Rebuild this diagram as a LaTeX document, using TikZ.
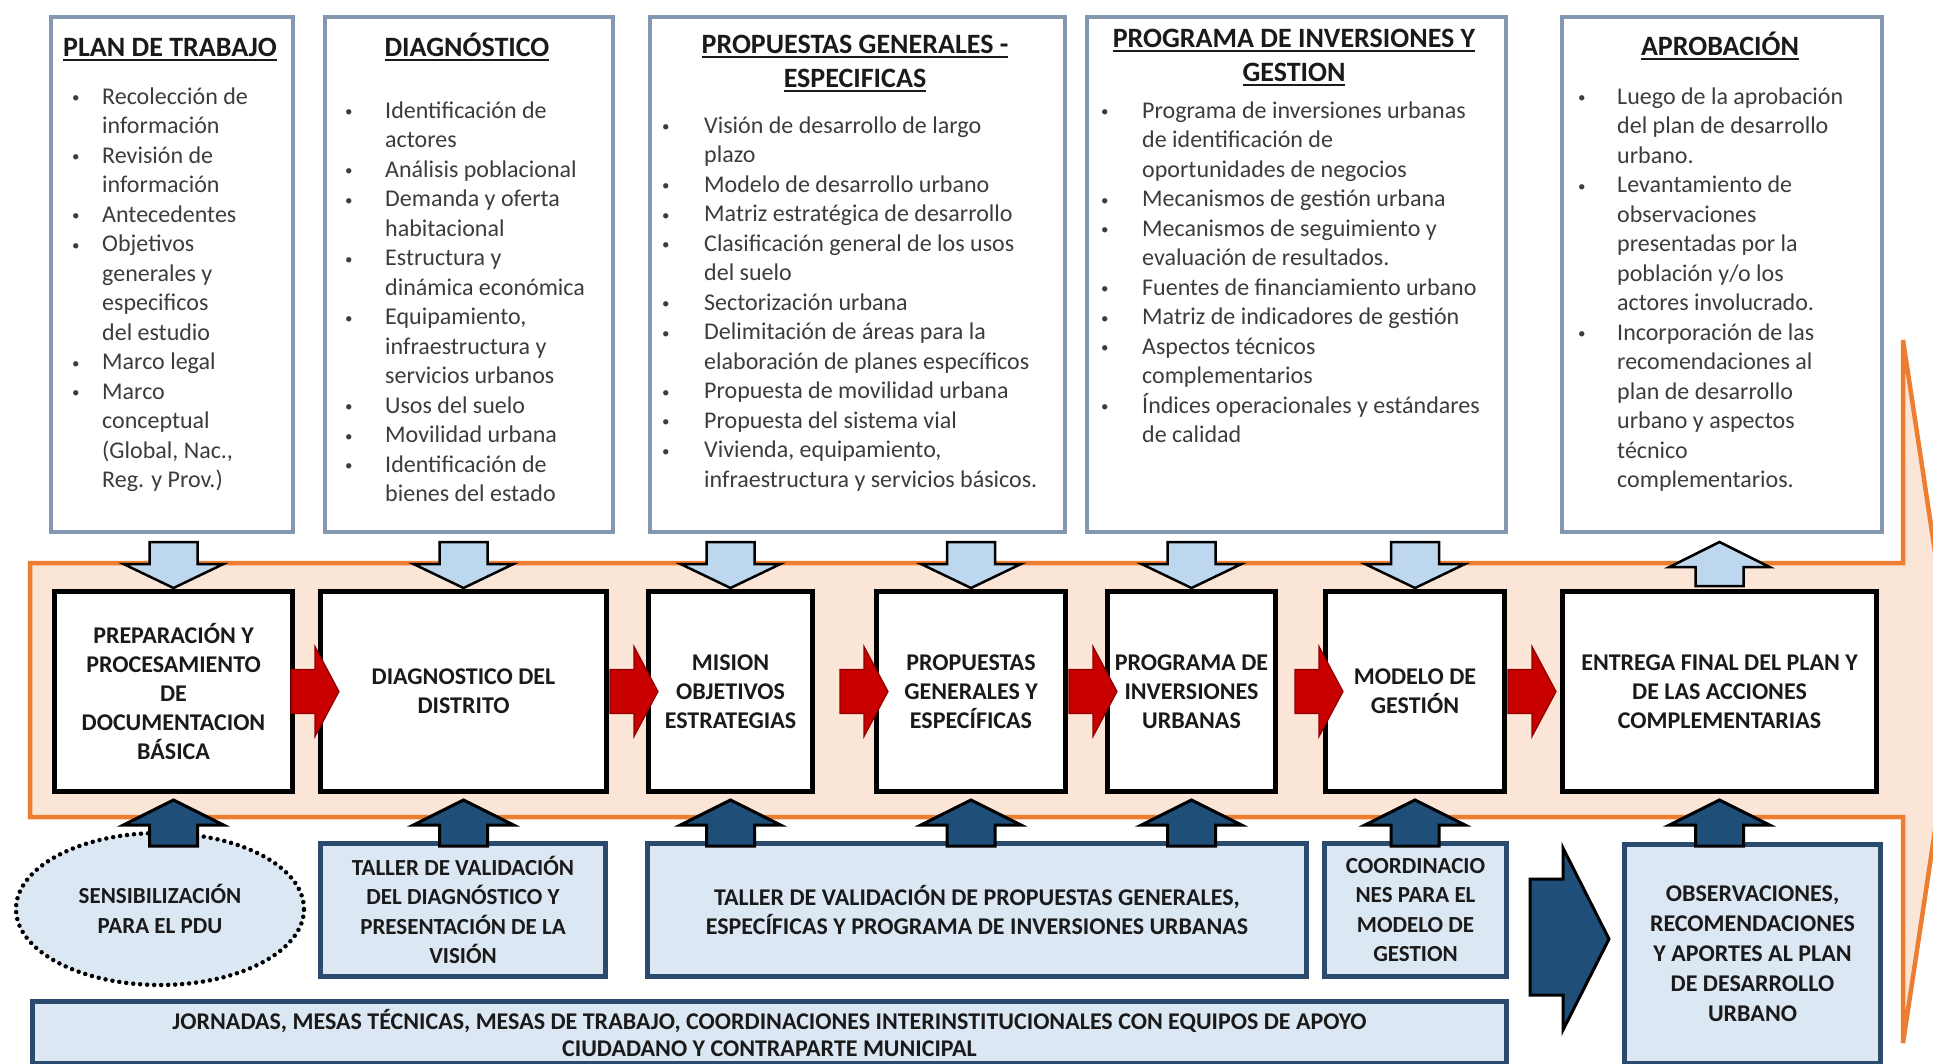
\documentclass[tikz,border=0pt]{standalone}
\usepackage{fontspec}
\setmainfont{Carlito}
\usetikzlibrary{shapes.geometric,calc}
\definecolor{tbord}{HTML}{8497B0}
\definecolor{lblue}{HTML}{BDD7EE}
\definecolor{dblue}{HTML}{1F4E79}
\definecolor{bbord}{HTML}{2A4A6E}
\definecolor{bfill}{HTML}{DCE7F4}
\definecolor{peach}{HTML}{FBE5D6}
\definecolor{orng}{HTML}{ED7D31}
\definecolor{redf}{HTML}{C80000}
\definecolor{redd}{HTML}{8E0000}
\definecolor{bodytxt}{HTML}{3C3C3C}
\definecolor{txt}{HTML}{1A1A1A}
\newcommand{\myul}[1]{\setbox0\hbox{#1}\rlap{\rule[-4.5pt]{\wd0}{2pt}}\box0}
\newcommand{\bu}{{\fontsize{15}{15}\selectfont\raisebox{1.5pt}{•}}}
\tikzset{
  topbox/.style={draw=tbord, line width=4pt, fill=white, anchor=north west, inner sep=0pt},
  procbox/.style={draw=black, line width=5pt, fill=white, anchor=north west, inner sep=0pt,
    align=center, text=txt, font=\fontsize{24}{29}\selectfont\bfseries},
  botbox/.style={draw=bbord, line width=5pt, fill=bfill, anchor=north west, inner sep=0pt,
    align=center, text=txt, font=\fontsize{23}{29.5}\selectfont\bfseries},
  sensst/.style={ellipse, draw=black, line width=4.5pt, dash pattern=on 0pt off 7pt, line cap=round,
    fill=bfill, minimum width=288, minimum height=152, inner sep=0pt, align=center, text=txt,
    font=\fontsize{23}{29.5}\selectfont\bfseries},
  ttl/.style={anchor=base, inner sep=0pt, text=txt, font=\fontsize{28}{34}\selectfont\bfseries},
  body/.style={anchor=base west, inner sep=0pt, text=bodytxt, font=\fontsize{24}{29.5}\selectfont},
  bandst/.style={draw=orng, line width=4.5pt, fill=peach, line join=miter},
  lbarrow/.style={draw=black, line width=2.5pt, fill=lblue, line join=miter},
  dbarrow/.style={draw=black, line width=3pt, fill=dblue, line join=miter},
  redarrow/.style={draw=redd, line width=1.2pt, fill=redf, line join=miter},
  lbdown/.pic={\draw[lbarrow] (-24,-47) -- (24,-47) -- (24,-25) -- (50,-25) -- (0,-1) -- (-50,-25) -- (-24,-25) -- cycle;},
  lbup/.pic={\draw[lbarrow] (-24,-3) -- (24,-3) -- (24,-22) -- (50,-22) -- (0,-47) -- (-50,-22) -- (-24,-22) -- cycle;},
  dbup/.pic={\draw[dbarrow] (-24,52) -- (24,52) -- (24,31) -- (50,31) -- (0,6) -- (-50,31) -- (-24,31) -- cycle;},
  redarr/.pic={\draw[redarrow] (-48,-22) -- (-24,-22) -- (-24,-45) -- (0,0) -- (-24,45) -- (-24,22) -- (-48,22) -- cycle;}
}
\begin{document}
\begin{tikzpicture}[x=1pt, y=-1pt]
\useasboundingbox (0,0) rectangle (1933,1063);
\fill[white] (0,0) rectangle (1933,1063);
\begin{scope}
  \clip (0,0) rectangle (1933,1063);
  \draw[bandst] (30,563) -- (1903,563) -- (1903,340) -- (1956,691) -- (1903,1043) -- (1903,817) -- (30,817) -- cycle;
\end{scope}

% top boxes
\node[topbox, minimum width=242, minimum height=515] (tplan) at (49,15) {};
\node[topbox, minimum width=288, minimum height=515] (tdiag) at (323,15) {};
\node[topbox, minimum width=415, minimum height=515] (tprop) at (648,15) {};
\node[topbox, minimum width=419, minimum height=515] (tprog) at (1085,15) {};
\node[topbox, minimum width=320, minimum height=515] (tapro) at (1560,15) {};

\node[ttl] (tplanT) at (170,56) {\myul{PLAN DE TRABAJO}};
\node[ttl] (tdiagT) at (467,56) {\myul{DIAGNÓSTICO}};
\node[ttl] (tpropT) at (855,53) {\begin{tabular}[t]{@{}c@{}}\myul{PROPUESTAS GENERALES -}\\\myul{ESPECIFICAS}\end{tabular}};
\node[ttl] (tprogT) at (1294,47) {\begin{tabular}[t]{@{}c@{}}\myul{PROGRAMA DE INVERSIONES Y}\\\myul{GESTION}\end{tabular}};
\node[ttl] (taproT) at (1720,55) {\myul{APROBACIÓN}};

\node[body] (tplanB) at (72,104) {\begin{tabular}[t]{@{}p{30pt}@{}l@{}}
\bu & Recolección de\\
  & información\\
\bu & Revisión de\\
  & información\\
\bu & Antecedentes\\
\bu & Objetivos\\
  & generales y\\
  & especificos\\
  & del estudio\\
\bu & Marco legal\\
\bu & Marco\\
  & conceptual\\
  & (Global, Nac.,\\
  & Reg. y Prov.)
\end{tabular}};

\node[body] (tdiagB) at (345,118) {\begin{tabular}[t]{@{}p{40pt}@{}l@{}}
\bu & Identificación de\\
  & actores\\
\bu & Análisis poblacional\\
\bu & Demanda y oferta\\
  & habitacional\\
\bu & Estructura y\\
  & dinámica económica\\
\bu & Equipamiento,\\
  & infraestructura y\\
  & servicios urbanos\\
\bu & Usos del suelo\\
\bu & Movilidad urbana\\
\bu & Identificación de\\
  & bienes del estado
\end{tabular}};

\node[body] (tpropB) at (662,133) {\begin{tabular}[t]{@{}p{42pt}@{}l@{}}
\bu & Visión de desarrollo de largo\\
  & plazo\\
\bu & Modelo de desarrollo urbano\\
\bu & Matriz estratégica de desarrollo\\
\bu & Clasificación general de los usos\\
  & del suelo\\
\bu & Sectorización urbana\\
\bu & Delimitación de áreas para la\\
  & elaboración de planes específicos\\
\bu & Propuesta de movilidad urbana\\
\bu & Propuesta del sistema vial\\
\bu & Vivienda, equipamiento,\\
  & infraestructura y servicios básicos.
\end{tabular}};

\node[body] (tprogB) at (1101,118) {\begin{tabular}[t]{@{}p{41pt}@{}l@{}}
\bu & Programa de inversiones urbanas\\
  & de identificación de\\
  & oportunidades de negocios\\
\bu & Mecanismos de gestión urbana\\
\bu & Mecanismos de seguimiento y\\
  & evaluación de resultados.\\
\bu & Fuentes de financiamiento urbano\\
\bu & Matriz de indicadores de gestión\\
\bu & Aspectos técnicos\\
  & complementarios\\
\bu & Índices operacionales y estándares\\
  & de calidad
\end{tabular}};

\node[body] (taproB) at (1578,104) {\begin{tabular}[t]{@{}p{39pt}@{}l@{}}
\bu & Luego de la aprobación\\
  & del plan de desarrollo\\
  & urbano.\\
\bu & Levantamiento de\\
  & observaciones\\
  & presentadas por la\\
  & población y/o los\\
  & actores involucrado.\\
\bu & Incorporación de las\\
  & recomendaciones al\\
  & plan de desarrollo\\
  & urbano y aspectos\\
  & técnico\\
  & complementarios.
\end{tabular}};

% process boxes
\node[procbox, minimum width=238, minimum height=200] (p1) at (52,589) {PREPARACIÓN Y\\PROCESAMIENTO\\DE\\DOCUMENTACION\\BÁSICA};
\node[procbox, minimum width=286, minimum height=200] (p2) at (318,589) {DIAGNOSTICO DEL\\DISTRITO};
\node[procbox, minimum width=164, minimum height=200] (p3) at (646,589) {MISION\\OBJETIVOS\\ESTRATEGIAS};
\node[procbox, minimum width=189, minimum height=200] (p4) at (874,589) {PROPUESTAS\\GENERALES Y\\ESPECÍFICAS};
\node[procbox, minimum width=168, minimum height=200] (p5) at (1105,589) {PROGRAMA DE\\INVERSIONES\\URBANAS};
\node[procbox, minimum width=179, minimum height=200] (p6) at (1323,589) {MODELO DE\\GESTIÓN};
\node[procbox, minimum width=314, minimum height=200] (p7) at (1560,589) {ENTREGA FINAL DEL PLAN Y\\DE LAS ACCIONES\\COMPLEMENTARIAS};

% arrows top boxes -> process
\pic at (p1.north) {lbdown};
\pic at (p2.north) {lbdown};
\pic at (p3.north) {lbdown};
\pic at (p4.north) {lbdown};
\pic at (p5.north) {lbdown};
\pic at (p6.north) {lbdown};
\pic at (p7.north) {lbup};

% red arrows between process boxes
\pic at ($(p2.west)+(21,0)$) {redarr};
\pic at ($(p3.west)+(12,0)$) {redarr};
\pic at ($(p4.west)+(14,0)$) {redarr};
\pic at ($(p5.west)+(12,0)$) {redarr};
\pic at ($(p6.west)+(20,0)$) {redarr};
\pic at ($(p7.west)+(-4,0)$) {redarr};

% bottom row
\node[sensst] (sens) at (160,909) {SENSIBILIZACIÓN\\PARA EL PDU};
\node[botbox, minimum width=285, minimum height=133] (b1) at (318,841) {TALLER DE VALIDACIÓN\\DEL DIAGNÓSTICO Y\\PRESENTACIÓN DE LA\\VISIÓN};
\node[botbox, minimum width=659, minimum height=133, font=\fontsize{24}{29.5}\selectfont\bfseries] (b2) at (645,841) {TALLER DE VALIDACIÓN DE PROPUESTAS GENERALES,\\ESPECÍFICAS Y PROGRAMA DE INVERSIONES URBANAS};
\node[botbox, minimum width=182, minimum height=133] (b3) at (1322,841) {COORDINACIO\\NES PARA EL\\MODELO DE\\GESTION};
\node[botbox, minimum width=256, minimum height=219, font=\fontsize{24}{30}\selectfont\bfseries] (obs) at (1622,842) {OBSERVACIONES,\\RECOMENDACIONES\\Y APORTES AL PLAN\\DE DESARROLLO\\URBANO};
\node[botbox, minimum width=1474, minimum height=62, font=\fontsize{24}{27}\selectfont\bfseries] (jorn) at (30,999) {JORNADAS, MESAS TÉCNICAS, MESAS DE TRABAJO, COORDINACIONES INTERINSTITUCIONALES CON EQUIPOS DE APOYO\\CIUDADANO Y CONTRAPARTE MUNICIPAL};

% dark up arrows bottom -> process
\pic at (p1.south) {dbup};
\pic at (p2.south) {dbup};
\pic at (p3.south) {dbup};
\pic at (p4.south) {dbup};
\pic at (p5.south) {dbup};
\pic at (p6.south) {dbup};
\pic at (p7.south) {dbup};

% big dark arrow towards observations
\coordinate (bigtip) at (1609,939);
\draw[dbarrow] (1530,879) -- (1563,879) -- (1563,848) -- (bigtip) -- (1563,1030) -- (1563,995) -- (1530,995) -- cycle;
\end{tikzpicture}
\end{document}
